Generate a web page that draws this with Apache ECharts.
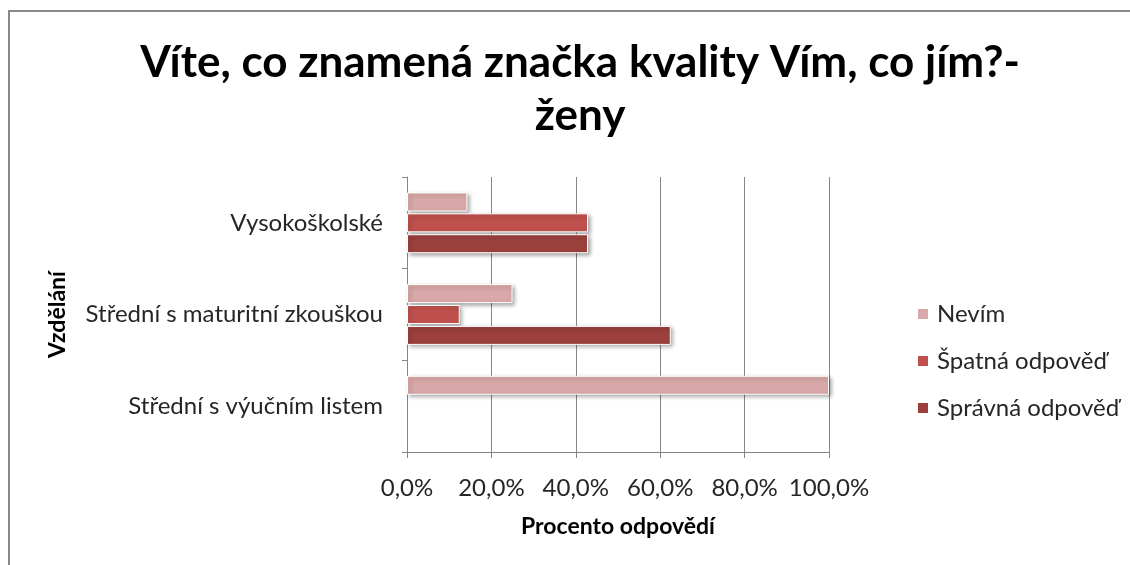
<!DOCTYPE html>
<html lang="cs">
<head>
    <meta charset="UTF-8">
    <title>Víte, co znamená značka kvality Vím, co jím? - ženy</title>
    <style>
        html, body { margin: 0; padding: 0; background: #fff; }
    </style>
</head>
<body>
<div id="main" style="width: 1130px;height:565px;"></div>
<script type="text/javascript" src="https://cdn.jsdelivr.net/npm/echarts@6/dist/echarts.min.js"></script>
<script>
    // kategorie odspodu nahoru (jako v Excelu)
    var categories = ['Střední s výučním listem', 'Střední s maturitní zkouškou', 'Vysokoškolské'];
    var seriesNames = ['Nevím', 'Špatná odpověď', 'Správná odpověď'];
    var nevim = [100, 25, 14.3];
    var spatna = [0, 12.5, 42.9];
    var spravna = [0, 62.5, 42.9];
    var xTicks = [0, 20, 40, 60, 80, 100];

    var colors = {
        'Nevím': '#D9A8A8',
        'Špatná odpověď': '#C0504D',
        'Správná odpověď': '#9C403D'
    };

    var myChart = echarts.init(document.getElementById('main'));

    function barSeries(name, data) {
        return {
            name: name,
            type: 'bar',
            // nulové hodnoty Excel nekreslí vůbec
            data: data.map(function (v) { return v === 0 ? '-' : v; }),
            barWidth: 19,
            barGap: '10%',
            itemStyle: {
                color: colors[name],
                borderColor: '#fff',
                borderWidth: 1,
                shadowColor: 'rgba(0,0,0,0.35)',
                shadowBlur: 4,
                shadowOffsetX: 2,
                shadowOffsetY: 2
            }
        };
    }

    var font = 'Lato, sans-serif';

    var option = {
        animation: false,
        textStyle: { fontFamily: font },
        title: {
            text: 'Víte, co znamená značka kvality Vím, co jím?-\nženy',
            left: 575,
            top: 31,
            textAlign: 'center',
            textStyle: {
                fontFamily: font,
                fontSize: 44,
                fontWeight: 'bold',
                color: '#000',
                lineHeight: 53
            }
        },
        legend: {
            data: seriesNames,
            orient: 'vertical',
            left: 911,
            top: 296,
            itemWidth: 12,
            itemHeight: 12,
            itemGap: 21,
            icon: 'rect',
            textStyle: {
                fontFamily: font,
                fontSize: 24,
                color: '#262626',
                lineHeight: 26,
                padding: [0, 0, 0, 3]
            }
        },
        grid: {
            left: 407,
            right: 301,
            top: 177,
            bottom: 113
        },
        xAxis: {
            type: 'value',
            min: xTicks[0],
            max: xTicks[xTicks.length - 1],
            interval: 20,
            name: 'Procento odpovědí',
            nameLocation: 'middle',
            nameGap: 63,
            nameTextStyle: {
                fontFamily: font,
                fontSize: 23,
                fontWeight: 'bold',
                color: '#000'
            },
            axisLine: { show: true, lineStyle: { color: '#868686', width: 1 } },
            axisTick: { show: true, length: 6, lineStyle: { color: '#868686' } },
            splitLine: { show: true, lineStyle: { color: '#868686', width: 1 } },
            axisLabel: {
                margin: 24,
                fontSize: 24,
                color: '#262626',
                fontFamily: font,
                formatter: function (v) {
                    return v.toFixed(1).replace('.', ',') + '%';
                }
            }
        },
        yAxis: {
            type: 'category',
            data: categories,
            name: 'Vzdělání',
            nameLocation: 'middle',
            nameRotate: 90,
            nameGap: 338,
            nameTextStyle: {
                fontFamily: font,
                fontSize: 23,
                fontWeight: 'bold',
                color: '#000'
            },
            axisLine: { show: true, lineStyle: { color: '#868686', width: 1 } },
            axisTick: { show: true, length: 5, lineStyle: { color: '#868686' } },
            axisLabel: {
                margin: 24,
                fontSize: 24,
                color: '#262626',
                fontFamily: font
            }
        },
        // první série je v rámci kategorie nahoře
        series: [
            barSeries('Nevím', nevim),
            barSeries('Špatná odpověď', spatna),
            barSeries('Správná odpověď', spravna)
        ],
        graphic: [{
            type: 'rect',
            silent: true,
            shape: { x: 9, y: 11, width: 1200, height: 700 },
            style: { fill: 'none', stroke: '#888', lineWidth: 2 }
        }]
    };

    myChart.setOption(option);
</script>
</body>
</html>
